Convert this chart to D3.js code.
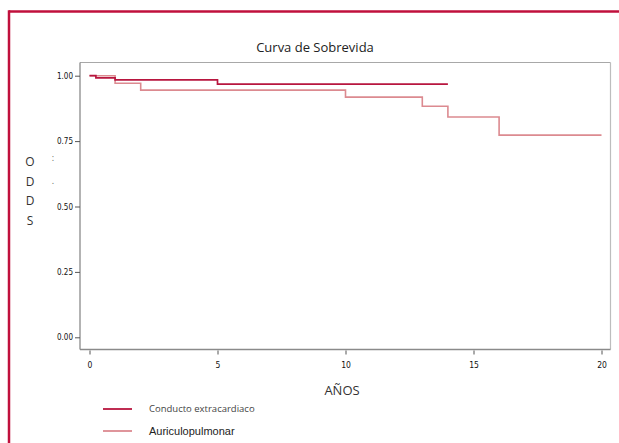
<!DOCTYPE html>
<html><head><meta charset="utf-8">
<script src="https://cdn.jsdelivr.net/npm/d3@7"></script>
<style>
html,body{margin:0;padding:0;background:#fff;}
svg{display:block;}
</style></head>
<body>
<script>
// ---- data ----
const seriesNames = ["Conducto extracardiaco", "Auriculopulmonar"];
const conductoTimes = [0, 0.25, 1, 5, 14];
const conductoValues = [1.00, 0.992, 0.984, 0.968, 0.968];
const auriculoTimes = [0, 1, 2, 10, 13, 14, 16, 20];
const auriculoValues = [1.00, 0.971, 0.945, 0.918, 0.883, 0.842, 0.773, 0.773];
const xTicks = [0, 5, 10, 15, 20];
const yTicks = [0.00, 0.25, 0.50, 0.75, 1.00];
const colors = ["#b8163f", "#dc8a90"];

const W = 619, H = 443;
const svg = d3.select("body").append("svg").attr("width", W).attr("height", H);

// red frame
svg.append("line").attr("x1", 9).attr("x2", W).attr("y1", 11.5).attr("y2", 11.5)
  .attr("stroke", "#c0103c").attr("stroke-width", 2.5);
svg.append("line").attr("x1", 9).attr("x2", 9).attr("y1", 10.3).attr("y2", H)
  .attr("stroke", "#c0103c").attr("stroke-width", 2.5);

const x = d3.scaleLinear().domain([0, 20]).range([89.5, 601.5]);
const y = d3.scaleLinear().domain([0, 1]).range([337.3, 75.7]);

// plot box
const box = {l: 80, t: 62.5, r: 610.5, b: 349.5};
svg.append("line").attr("x1", box.l).attr("x2", box.r).attr("y1", box.t).attr("y2", box.t).attr("stroke", "#a8a8a8").attr("stroke-width", 1.2);
svg.append("line").attr("x1", box.r).attr("x2", box.r).attr("y1", box.t).attr("y2", box.b).attr("stroke", "#bdbdbd").attr("stroke-width", 1.2);

const tickFont = "'Liberation Sans Narrow','DejaVu Sans Condensed',sans-serif";

// y axis
const yAxis = svg.append("g").attr("transform", `translate(${box.l},0)`)
  .call(d3.axisLeft(y).tickValues(yTicks).tickFormat(d3.format(".2f")).tickSize(5).tickPadding(2).tickSizeOuter(0));
yAxis.select(".domain").attr("d", `M0,${box.t}V${box.b}`).attr("stroke", "#8a8a8a").attr("stroke-width", 1.3);
yAxis.selectAll(".tick line").attr("stroke", "#555");
yAxis.selectAll(".tick text").attr("font-family", tickFont).attr("font-size", 8).attr("fill", "#111");

// x axis (offset below box)
svg.append("line").attr("x1", box.l).attr("x2", box.r).attr("y1", box.b).attr("y2", box.b).attr("stroke", "#8a8a8a").attr("stroke-width", 1.3);
const xAxis = svg.append("g").attr("transform", `translate(0,${box.b + 1})`)
  .call(d3.axisBottom(x).tickValues(xTicks).tickFormat(d3.format("d")).tickSize(4).tickPadding(7));
xAxis.select(".domain").remove();
xAxis.selectAll(".tick line").attr("stroke", "#555");
xAxis.selectAll(".tick text").attr("font-family", tickFont).attr("font-size", 8.5).attr("fill", "#111");

// step curves
const line = d3.line().x(d => x(d[0])).y(d => y(d[1])).curve(d3.curveStepAfter);
const auri = auriculoTimes.map((t, i) => [t, auriculoValues[i]]);
const cond = conductoTimes.map((t, i) => [t, conductoValues[i]]);
svg.append("path").attr("d", line(auri)).attr("fill", "none").attr("stroke", colors[1]).attr("stroke-width", 1.6);
svg.append("path").attr("d", line(cond)).attr("fill", "none").attr("stroke", colors[0]).attr("stroke-width", 1.7);

// title
svg.append("text").attr("x", 315).attr("y", 52).attr("text-anchor", "middle")
  .attr("font-family", "'Open Sans',sans-serif").attr("font-size", 13).attr("fill", "#222")
  .text("Curva de Sobrevida");

// x label
svg.append("text").attr("x", 342).attr("y", 395).attr("text-anchor", "middle")
  .attr("font-family", "'Open Sans',sans-serif").attr("font-size", 13).attr("fill", "#333")
  .text("AÑOS");

// y label stacked
const yl = ["O", "D", "D", "S"];
const ylY = [166, 186, 205, 225];
yl.forEach((c, i) => svg.append("text").attr("x", 30).attr("y", ylY[i]).attr("text-anchor", "middle")
  .attr("font-family", "'Open Sans',sans-serif").attr("font-size", 12).attr("fill", "#333").text(c));
svg.append("text").attr("x", 53).attr("y", 161).attr("text-anchor", "middle").attr("font-size", 9).attr("fill", "#666")
  .attr("font-family", "'Open Sans',sans-serif").text(":");
svg.append("text").attr("x", 53).attr("y", 184).attr("text-anchor", "middle").attr("font-size", 9).attr("fill", "#666")
  .attr("font-family", "'Open Sans',sans-serif").text(".");

// legend
const leg = [
  {name: seriesNames[0], y: 409, font: "'Open Sans',sans-serif", size: 9.5, fill: "#444"},
  {name: seriesNames[1], y: 431, font: "'Liberation Sans',Arial,sans-serif", size: 11, fill: "#222"}
];
leg.forEach((l, i) => {
  svg.append("line").attr("x1", 103).attr("x2", 132).attr("y1", l.y).attr("y2", l.y)
    .attr("stroke", colors[i]).attr("stroke-width", 1.8);
  svg.append("text").attr("x", 149).attr("y", l.y).attr("dy", "0.35em")
    .attr("font-family", l.font).attr("font-size", l.size).attr("fill", l.fill).text(l.name);
});
</script>
</body></html>
